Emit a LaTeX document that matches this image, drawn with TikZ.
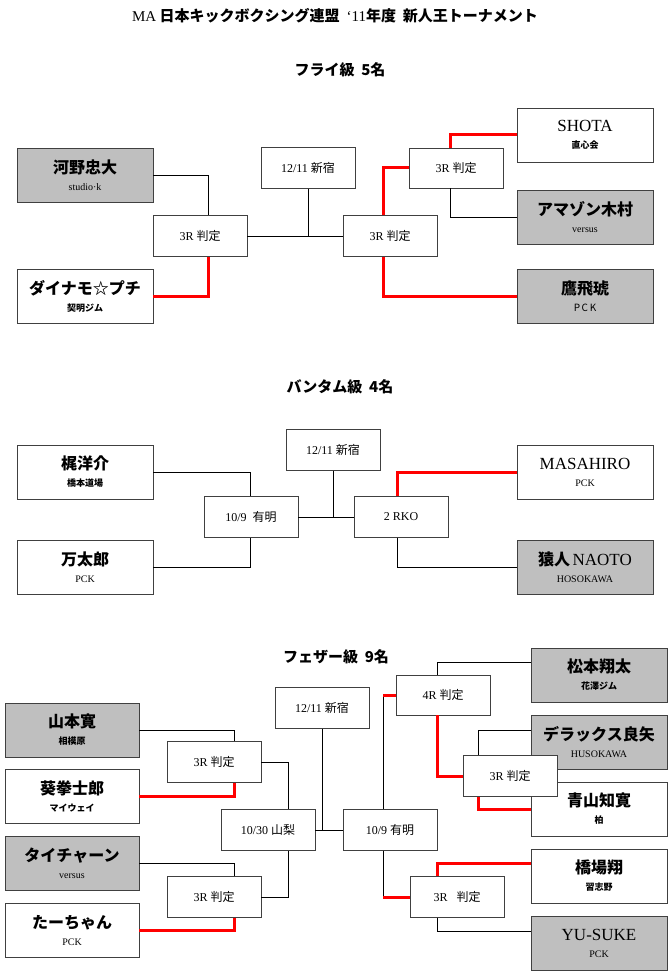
\documentclass[tikz,border=0pt]{standalone}
\usepackage{fontspec}
\setmainfont{Liberation Serif}
\newfontfamily\cjk{Noto Sans CJK JP}
\newcommand\nm[1]{{\cjk\bfseries\fontsize{16}{18}\selectfont #1}}
\newcommand\lnm[1]{{\fontsize{17}{18}\selectfont #1}}
\newcommand\sj[1]{{\cjk\bfseries\fontsize{9}{10}\selectfont #1}}
\newcommand\slat[1]{{\fontsize{10}{11}\selectfont #1}}
\newcommand\rd[1]{{\fontsize{12}{13}\selectfont #1}}
\newcommand\kj[1]{{\cjk #1}}
\begin{document}
\begin{tikzpicture}[x=1pt,y=-1pt,
  pl/.style={draw=black!75,line width=0.8pt,minimum width=136pt,minimum height=54pt,align=center,inner sep=1pt,fill=white},
  gr/.style={pl,fill=black!25},
  rb/.style={draw=black!75,line width=0.8pt,minimum width=94pt,minimum height=41pt,fill=white,inner sep=1pt},
  ttl/.style={font=\cjk\bfseries\fontsize{15}{17}\selectfont},
  wl/.style={line width=0.8pt},
  win/.style={red,line width=3pt}]
\useasboundingbox[fill=white] (0,0) rectangle (670,976);
\node[ttl] (t0) at (335,16) {{\rmfamily\mdseries MA} 日本キックボクシング連盟\ \ {\rmfamily\mdseries ‘11}年度\ \ 新人王トーナメント};
% ---------- Fly
\node[ttl] (t1) at (340,70) {フライ級\ \ 5名};
\node[gr] (k1) at (85,175) {\nm{河野忠大}\\[5pt]\slat{studio·k}};
\node[pl] (k2) at (85,296) {\nm{ダイナモ☆プチ}\\[5pt]\sj{契明ジム}};
\node[pl] (k3) at (585,135) {\lnm{SHOTA}\\[5pt]\sj{直心会}};
\node[gr] (k4) at (585,217) {\nm{アマゾン木村}\\[5pt]\slat{versus}};
\node[gr] (k5) at (585,296) {\nm{鷹飛琥}\\[5pt]{\cjk\fontsize{10}{11}\selectfont P\,C\,K}};
\node[rb] (r1) at (200,236) {\rd{3R \kj{判定}}};
\node[rb] (d1) at (308,168) {\rd{12/11 \kj{新宿}}};
\node[rb] (r2) at (390,236) {\rd{3R \kj{判定}}};
\node[rb,minimum height=40pt] (r3) at (456,168) {\rd{3R \kj{判定}}};
\draw[wl] (k1.east) -| ([xshift=8]r1.north);
\draw[win] ([xshift=8]r1.south) |- (k2.east);
\draw[wl] (r1.east) -- (r2.west);
\draw[wl] (d1.south) -- (d1.south |- r1.east);
\draw[win] ([xshift=-7]r2.north) |- (r3.west);
\draw[win] ([xshift=-6]r3.north) |- (k3.west);
\draw[wl] ([xshift=-6]r3.south) |- (k4.west);
\draw[win] ([xshift=-7]r2.south) |- (k5.west);
% ---------- Bantam
\node[ttl] (t2) at (340,387) {バンタム級\ \ 4名};
\node[pl] (b1) at (85,472) {\nm{梶洋介}\\[5pt]\sj{橋本道場}};
\node[pl] (b2) at (85,567) {\nm{万太郎}\\[5pt]\slat{PCK}};
\node[pl] (b3) at (585,472) {\lnm{MASAHIRO}\\[5pt]\slat{PCK}};
\node[gr] (b4) at (585,567) {\nm{猿人} \lnm{NAOTO}\\[5pt]\slat{HOSOKAWA}};
\node[rb] (r4) at (251,517) {\rd{10/9\ \ \kj{有明}}};
\node[rb] (d2) at (333,450) {\rd{12/11 \kj{新宿}}};
\node[rb] (r5) at (401,517) {\rd{2 RKO}};
\draw[wl] (b1.east) -| ([xshift=-1]r4.north);
\draw[wl] (b2.east) -| ([xshift=-1]r4.south);
\draw[wl] (r4.east) -- (r5.west);
\draw[wl] (d2.south) -- (d2.south |- r4.east);
\draw[win] ([xshift=-4]r5.north) |- (b3.west);
\draw[wl] ([xshift=-4]r5.south) |- (b4.west);
% ---------- Feather
\node[ttl] (t3) at (336,657) {フェザー級\ \ 9名};
\node[gr,minimum width=134pt] (f1) at (72,730) {\nm{山本寛}\\[5pt]\sj{相模原}};
\node[pl,minimum width=134pt] (f2) at (72,796) {\nm{葵拳士郎}\\[5pt]\sj{マイウェイ}};
\node[gr,minimum width=134pt] (f3) at (72,863) {\nm{タイチャーン}\\[5pt]\slat{versus}};
\node[pl,minimum width=134pt] (f4) at (72,930) {\nm{たーちゃん}\\[5pt]\slat{PCK}};
\node[gr] (f5) at (599,675) {\nm{松本翔太}\\[5pt]\sj{花澤ジム}};
\node[gr] (f6) at (599,742) {\nm{デラックス良矢}\\[5pt]\slat{HUSOKAWA}};
\node[pl] (f7) at (599,809) {\nm{青山知寛}\\[5pt]\sj{柏}};
\node[pl] (f8) at (599,876) {\nm{橋場翔}\\[5pt]\sj{習志野}};
\node[gr] (f9) at (599,943) {\lnm{YU-SUKE}\\[5pt]\slat{PCK}};
\node[rb] (r6) at (214,762) {\rd{3R \kj{判定}}};
\node[rb] (r7) at (214,897) {\rd{3R \kj{判定}}};
\node[rb] (r8) at (268,830) {\rd{10/30 \kj{山梨}}};
\node[rb] (d3) at (322,708) {\rd{12/11 \kj{新宿}}};
\node[rb] (r9) at (390,830) {\rd{10/9 \kj{有明}}};
\node[rb,minimum height=40pt] (r10) at (443,695) {\rd{4R \kj{判定}}};
\node[rb] (r12) at (457,897) {\rd{3R\ \ \ \kj{判定}}};
\node[rb] (r11) at (510,776) {\rd{3R \kj{判定}}};
\draw[wl] (f1.east) -| ([xshift=20]r6.north);
\draw[win] ([xshift=20]r6.south) |- (f2.east);
\draw[wl] (r6.east) -| ([xshift=20]r8.north);
\draw[wl] (f3.east) -| ([xshift=20]r7.north);
\draw[win] ([xshift=20]r7.south) |- (f4.east);
\draw[wl] (r7.east) -| ([xshift=20]r8.south);
\draw[wl] (r8.east) -- (r9.west);
\draw[wl] (d3.south) -- (d3.south |- r8.east);
\coordinate (c1) at ([xshift=-7]r9.north |- r10.west);
\draw[wl] ([xshift=-7]r9.north) -- (c1);
\draw[win] (c1) -- (r10.west);
\draw[wl] ([xshift=-6]r10.north) |- ([yshift=13]f5.west);
\draw[win] ([xshift=-6]r10.south) |- (r11.west);
\coordinate (c2) at ([xshift=-7]r9.south |- r12.west);
\draw[wl] ([xshift=-7]r9.south) -- (c2);
\draw[win] (c2) -- (r12.west);
\draw[win] ([xshift=-20]r12.north) |- ([yshift=13]f8.west);
\draw[wl] ([xshift=-20]r12.south) |- ([yshift=12]f9.west);
\draw[wl] ([xshift=-32]r11.north) |- ([yshift=12]f6.west);
\draw[win] ([xshift=-32]r11.south) |- (f7.west);
\end{tikzpicture}
\end{document}
